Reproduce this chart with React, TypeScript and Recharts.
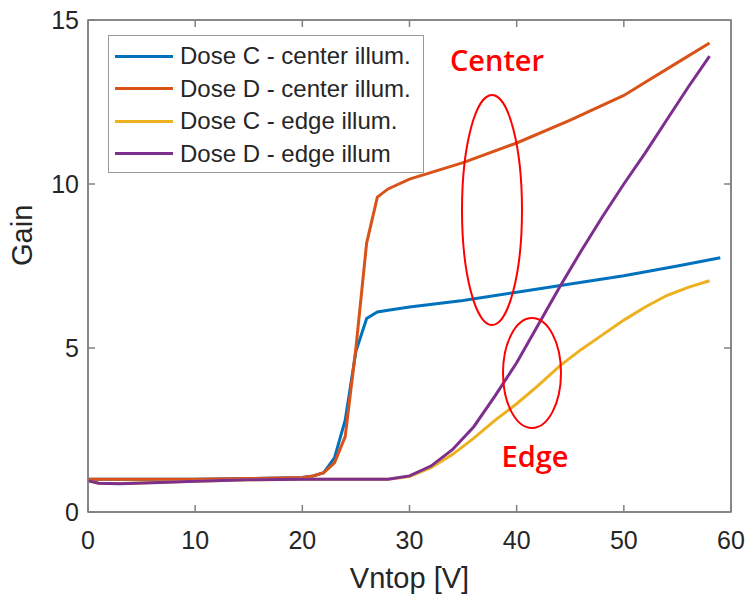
import React from "react";
import { LineChart, Line, XAxis, YAxis, ReferenceLine, ReferenceArea } from "recharts";

// Vntop [V] vs Gain
const doseCCenter = [
  { v: 0, g: 1.0 }, { v: 5, g: 1.0 }, { v: 10, g: 1.0 }, { v: 15, g: 1.02 },
  { v: 20, g: 1.05 }, { v: 21, g: 1.1 }, { v: 22, g: 1.2 }, { v: 23, g: 1.65 },
  { v: 24, g: 2.8 }, { v: 25, g: 4.9 }, { v: 26, g: 5.9 }, { v: 27, g: 6.1 },
  { v: 28, g: 6.15 }, { v: 30, g: 6.25 }, { v: 35, g: 6.45 }, { v: 40, g: 6.7 },
  { v: 45, g: 6.95 }, { v: 50, g: 7.2 }, { v: 55, g: 7.5 }, { v: 59, g: 7.75 },
];
const doseDCenter = [
  { v: 0, g: 1.0 }, { v: 5, g: 1.0 }, { v: 10, g: 1.0 }, { v: 15, g: 1.02 },
  { v: 20, g: 1.05 }, { v: 21, g: 1.1 }, { v: 22, g: 1.2 }, { v: 23, g: 1.5 },
  { v: 24, g: 2.3 }, { v: 25, g: 5.0 }, { v: 26, g: 8.2 }, { v: 27, g: 9.6 },
  { v: 28, g: 9.85 }, { v: 30, g: 10.15 }, { v: 35, g: 10.65 }, { v: 40, g: 11.25 },
  { v: 45, g: 11.95 }, { v: 50, g: 12.7 }, { v: 52, g: 13.1 }, { v: 55, g: 13.7 },
  { v: 58, g: 14.3 },
];
const doseCEdge = [
  { v: 0, g: 0.95 }, { v: 1, g: 0.88 }, { v: 3, g: 0.87 }, { v: 6, g: 0.9 },
  { v: 10, g: 0.94 }, { v: 15, g: 0.98 }, { v: 20, g: 1.0 }, { v: 25, g: 1.0 },
  { v: 28, g: 1.0 }, { v: 30, g: 1.08 }, { v: 32, g: 1.35 }, { v: 34, g: 1.75 },
  { v: 36, g: 2.25 }, { v: 38, g: 2.8 }, { v: 40, g: 3.3 }, { v: 42, g: 3.85 },
  { v: 44, g: 4.45 }, { v: 46, g: 4.95 }, { v: 48, g: 5.4 }, { v: 50, g: 5.85 },
  { v: 52, g: 6.25 }, { v: 54, g: 6.6 }, { v: 56, g: 6.85 }, { v: 58, g: 7.05 },
];
const doseDEdge = [
  { v: 0, g: 0.95 }, { v: 1, g: 0.88 }, { v: 3, g: 0.86 }, { v: 6, g: 0.89 },
  { v: 10, g: 0.94 }, { v: 15, g: 0.98 }, { v: 20, g: 1.0 }, { v: 25, g: 1.0 },
  { v: 28, g: 1.0 }, { v: 30, g: 1.1 }, { v: 32, g: 1.4 }, { v: 34, g: 1.9 },
  { v: 36, g: 2.6 }, { v: 38, g: 3.55 }, { v: 40, g: 4.55 }, { v: 42, g: 5.7 },
  { v: 44, g: 6.85 }, { v: 46, g: 7.95 }, { v: 48, g: 9.0 }, { v: 50, g: 10.0 },
  { v: 52, g: 10.95 }, { v: 54, g: 11.95 }, { v: 56, g: 12.95 }, { v: 58, g: 13.9 },
];

const xTicks = [0, 10, 20, 30, 40, 50, 60];
const yTicks = [0, 5, 10, 15];
const xMax = 60;
const yMax = 15;

const series = [
  { name: "Dose C - center illum.", data: doseCCenter, color: "#0072BD" },
  { name: "Dose D - center illum.", data: doseDCenter, color: "#D95319" },
  { name: "Dose C - edge illum.", data: doseCEdge, color: "#EDB120" },
  { name: "Dose D - edge illum", data: doseDEdge, color: "#7E2F8E" },
];

const AXIS = "#808080";
const TXT = "#262626";
const FONT = "'Liberation Sans', Arial, sans-serif";
const TICK_LEN = 7;

// matlab style ticks: short marks pointing into the plot box
const BottomTick = (p: any) => (
  <g>
    <line x1={p.x} y1={p.y} x2={p.x} y2={p.y - TICK_LEN} stroke={AXIS} strokeWidth={1.5} />
    <text x={p.x} y={p.y + 37} textAnchor="middle" fill={TXT} fontSize={25} fontFamily={FONT}>
      {p.payload.value}
    </text>
  </g>
);
const LeftTick = (p: any) => (
  <g>
    <line x1={p.x} y1={p.y} x2={p.x + TICK_LEN} y2={p.y} stroke={AXIS} strokeWidth={1.5} />
    <text x={p.x - 9} y={p.y + 9} textAnchor="end" fill={TXT} fontSize={25} fontFamily={FONT}>
      {p.payload.value}
    </text>
  </g>
);
// tick marks on the top and right edges of the box
const TopTickMark = (p: any) => {
  const top = Math.min(p.y1, p.y2);
  return <line x1={p.x1} y1={top} x2={p.x1} y2={top + TICK_LEN} stroke={AXIS} strokeWidth={1.5} />;
};
const RightTickMark = (p: any) => {
  const right = Math.max(p.x1, p.x2);
  return <line x1={right} y1={p.y1} x2={right - TICK_LEN} y2={p.y1} stroke={AXIS} strokeWidth={1.5} />;
};

function ChartLegend() {
  return (
    <div
      style={{
        position: "absolute",
        left: 108,
        top: 35,
        width: 316,
        height: 138,
        border: "1.5px solid #9a9a9a",
        background: "#fff",
        padding: "4px 6px",
        fontFamily: FONT,
        fontSize: 24,
        color: TXT,
        boxSizing: "border-box",
        whiteSpace: "nowrap",
      }}
    >
      {series.map((s) => (
        <div key={s.name} style={{ display: "flex", alignItems: "center", height: 32.5 }}>
          <span style={{ display: "inline-block", width: 58, height: 3, background: s.color, marginRight: 7, flexShrink: 0 }} />
          <span>{s.name}</span>
        </div>
      ))}
    </div>
  );
}

export default function App() {
  return (
    <div style={{ position: "relative", width: 748, height: 595, background: "#fff" }}>
      <style>{"body{margin:0}"}</style>
      <LineChart width={748} height={595} margin={{ top: 20, right: 17, bottom: 0, left: 0 }}>
        <XAxis
          type="number"
          dataKey="v"
          domain={[0, xMax]}
          ticks={xTicks}
          allowDataOverflow
          height={83}
          stroke={AXIS}
          strokeWidth={1.5}
          tickLine={false}
          tickSize={0}
          tickMargin={0}
          tick={BottomTick}
          label={{ value: "Vntop [V]", position: "insideBottom", offset: 7, fill: TXT, fontSize: 29, fontFamily: FONT }}
        />
        <YAxis
          type="number"
          dataKey="g"
          domain={[0, yMax]}
          ticks={yTicks}
          allowDataOverflow
          width={88}
          stroke={AXIS}
          strokeWidth={1.5}
          tickLine={false}
          tickSize={0}
          tickMargin={0}
          tick={LeftTick}
          label={{ value: "Gain", angle: -90, position: "insideLeft", offset: 22, fill: TXT, fontSize: 29, fontFamily: FONT }}
        />
        {/* plot box */}
        <ReferenceArea
          x1={0}
          x2={xMax}
          y1={0}
          y2={yMax}
          ifOverflow="visible"
          fill="none"
          fillOpacity={0}
          stroke={AXIS}
          strokeWidth={1.5}
          strokeOpacity={1}
        />
        {xTicks.slice(1, -1).map((t) => (
          <ReferenceLine key={"tx" + t} x={t} shape={TopTickMark} />
        ))}
        {yTicks.slice(1, -1).map((t) => (
          <ReferenceLine key={"ry" + t} y={t} shape={RightTickMark} />
        ))}
        {series.map((s) => (
          <Line
            key={s.name}
            data={s.data}
            dataKey="g"
            name={s.name}
            type="linear"
            stroke={s.color}
            strokeWidth={3}
            dot={false}
            isAnimationActive={false}
          />
        ))}
      </LineChart>
      <ChartLegend />
      <svg
        width={748}
        height={595}
        style={{ position: "absolute", left: 0, top: 0, pointerEvents: "none" }}
      >
        {/* right and top frame edges */}
        <line x1={731} y1={20} x2={731} y2={512} stroke={AXIS} strokeWidth={1.5} />
        <line x1={88} y1={20} x2={731} y2={20} stroke={AXIS} strokeWidth={1.5} />
        <ellipse cx={492} cy={210} rx={30} ry={115} fill="none" stroke="#ff0000" strokeWidth={2} />
        <ellipse cx={532} cy={373} rx={29} ry={55} fill="none" stroke="#ff0000" strokeWidth={2} />
        <text x={497} y={71} textAnchor="middle" fill="#ff0000" fontSize={29} fontWeight={600} fontFamily="'Open Sans', sans-serif">
          Center
        </text>
        <text x={535} y={467} textAnchor="middle" fill="#ff0000" fontSize={29} fontWeight={600} fontFamily="'Open Sans', sans-serif">
          Edge
        </text>
      </svg>
    </div>
  );
}
